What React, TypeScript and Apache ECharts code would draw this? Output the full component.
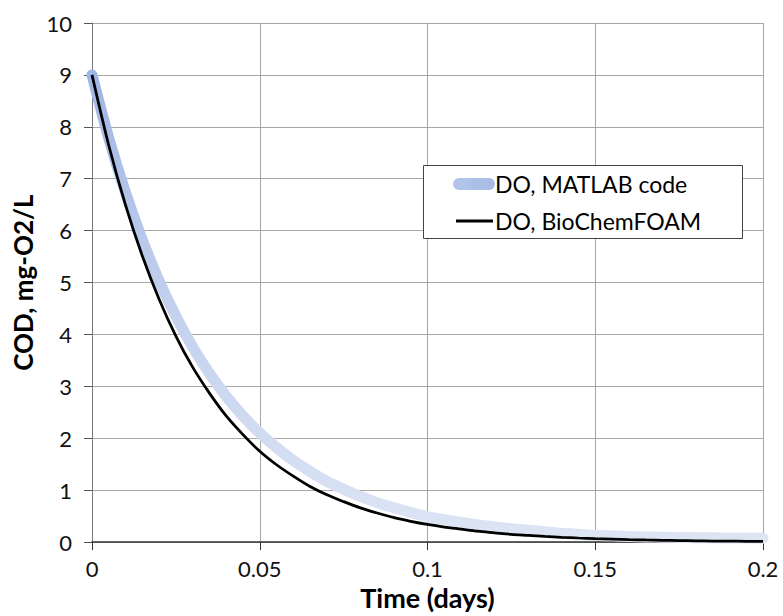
import React, { useEffect, useRef } from "react";
import * as echarts from "echarts";

const times = [
  0, 0.005, 0.01, 0.015, 0.02, 0.025, 0.03, 0.035, 0.04, 0.045, 0.05,
  0.055, 0.06, 0.065, 0.07, 0.075, 0.08, 0.085, 0.09, 0.095, 0.1,
  0.105, 0.11, 0.115, 0.12, 0.125, 0.13, 0.135, 0.14, 0.145, 0.15,
  0.155, 0.16, 0.165, 0.17, 0.175, 0.18, 0.185, 0.19, 0.195, 0.2,
];

const matlabDO = [
  9, 7.78, 6.73, 5.82, 5.03, 4.35, 3.76, 3.25, 2.81, 2.43, 2.1,
  1.82, 1.57, 1.36, 1.17, 1.02, 0.88, 0.76, 0.66, 0.57, 0.49,
  0.43, 0.38, 0.33, 0.29, 0.26, 0.23, 0.2, 0.17, 0.15, 0.13,
  0.12, 0.11, 0.1, 0.095, 0.09, 0.085, 0.082, 0.08, 0.078, 0.075,
];

const foamDO = [
  9, 7.64, 6.49, 5.51, 4.68, 3.97, 3.37, 2.87, 2.43, 2.07, 1.75,
  1.49, 1.27, 1.07, 0.91, 0.78, 0.66, 0.56, 0.47, 0.4, 0.34,
  0.29, 0.25, 0.21, 0.18, 0.15, 0.13, 0.11, 0.093, 0.079, 0.067,
  0.057, 0.048, 0.041, 0.035, 0.03, 0.025, 0.021, 0.018, 0.016, 0.013,
];

const seriesNames = ["DO, MATLAB code", "DO, BioChemFOAM"];
const xTitle = "Time (days)";
const yTitle = "COD, mg-O2/L";

export default function App() {
  const ref = useRef<HTMLDivElement>(null);
  useEffect(() => {
    if (!ref.current) return;
    const chart = echarts.init(ref.current, undefined, { renderer: "svg" });
    const blueGrad = new echarts.graphic.LinearGradient(0, 0, 0, 1, [
      { offset: 0, color: "#9fb5e3" },
      { offset: 0.5, color: "#c3d1ee" },
      { offset: 1, color: "#dde5f4" },
    ]);
    const legendGrad = new echarts.graphic.LinearGradient(0, 0, 1, 0, [
      { offset: 0, color: "#b4c6ea" },
      { offset: 1, color: "#a6bbe5" },
    ]);
    chart.setOption({
      animation: false,
      backgroundColor: "#ffffff",
      textStyle: { fontFamily: "Lato" },
      grid: { left: 92, right: 20, top: 23, bottom: 67, containLabel: false },
      xAxis: {
        type: "value",
        min: 0,
        max: 0.2,
        interval: 0.05,
        name: xTitle,
        nameLocation: "middle",
        nameGap: 37,
        nameTextStyle: { fontSize: 27, fontWeight: "bold", color: "#000", fontFamily: "Lato" },
        axisLine: { show: true, lineStyle: { color: "#333", width: 1.5 } },
        axisTick: { show: true, length: 8, lineStyle: { color: "#333" } },
        axisLabel: {
          fontSize: 22,
          color: "#111",
          margin: 15,
          formatter: (v: number) => String(parseFloat(v.toFixed(3))),
        },
        splitLine: { show: true, lineStyle: { color: "#a6a6a6", width: 1 } },
      },
      yAxis: {
        type: "value",
        min: 0,
        max: 10,
        interval: 1,
        name: yTitle,
        nameLocation: "middle",
        nameGap: 53,
        nameTextStyle: { fontSize: 26, fontWeight: "bold", color: "#000", fontFamily: "Lato" },
        axisLine: { show: true, lineStyle: { color: "#777", width: 1 } },
        axisTick: { show: true, length: 8, lineStyle: { color: "#555" } },
        axisLabel: { fontSize: 22, color: "#111", margin: 20 },
        splitLine: { show: true, lineStyle: { color: "#a6a6a6", width: 1 } },
      },
      series: [
        {
          name: seriesNames[0],
          type: "line",
          data: times.map((t, i) => [t, matlabDO[i]]),
          showSymbol: false,
          smooth: 0.3,
          lineStyle: { color: blueGrad, width: 11, cap: "round", join: "round" },
          z: 2,
        },
        {
          name: seriesNames[1],
          type: "line",
          data: times.map((t, i) => [t, foamDO[i]]),
          showSymbol: false,
          smooth: 0.3,
          lineStyle: { color: "#000", width: 2.75 },
          z: 3,
        },
      ],
      graphic: [
        {
          type: "rect",
          shape: { x: 423.5, y: 165.5, width: 319, height: 73 },
          style: { fill: "#fff", stroke: "#444", lineWidth: 1 },
          z: 10,
        },
        {
          type: "rect",
          shape: { x: 453, y: 178, width: 42, height: 12, r: 6 },
          style: { fill: legendGrad },
          z: 11,
        },
        {
          type: "text",
          x: 495,
          y: 184,
          style: { text: seriesNames[0], fontSize: 23, fontFamily: "Lato", fill: "#000", verticalAlign: "middle", align: "left" },
          z: 12,
        },
        {
          type: "line",
          shape: { x1: 456, y1: 221, x2: 493, y2: 221 },
          style: { stroke: "#000", lineWidth: 3 },
          z: 11,
        },
        {
          type: "text",
          x: 495,
          y: 221,
          style: { text: seriesNames[1], fontSize: 23, fontFamily: "Lato", fill: "#000", verticalAlign: "middle", align: "left" },
          z: 12,
        },
      ],
    });
    return () => chart.dispose();
  }, []);
  return (
    <div
      ref={ref}
      style={{ position: "fixed", left: 0, top: 0, width: 783, height: 616, background: "#fff" }}
    />
  );
}
